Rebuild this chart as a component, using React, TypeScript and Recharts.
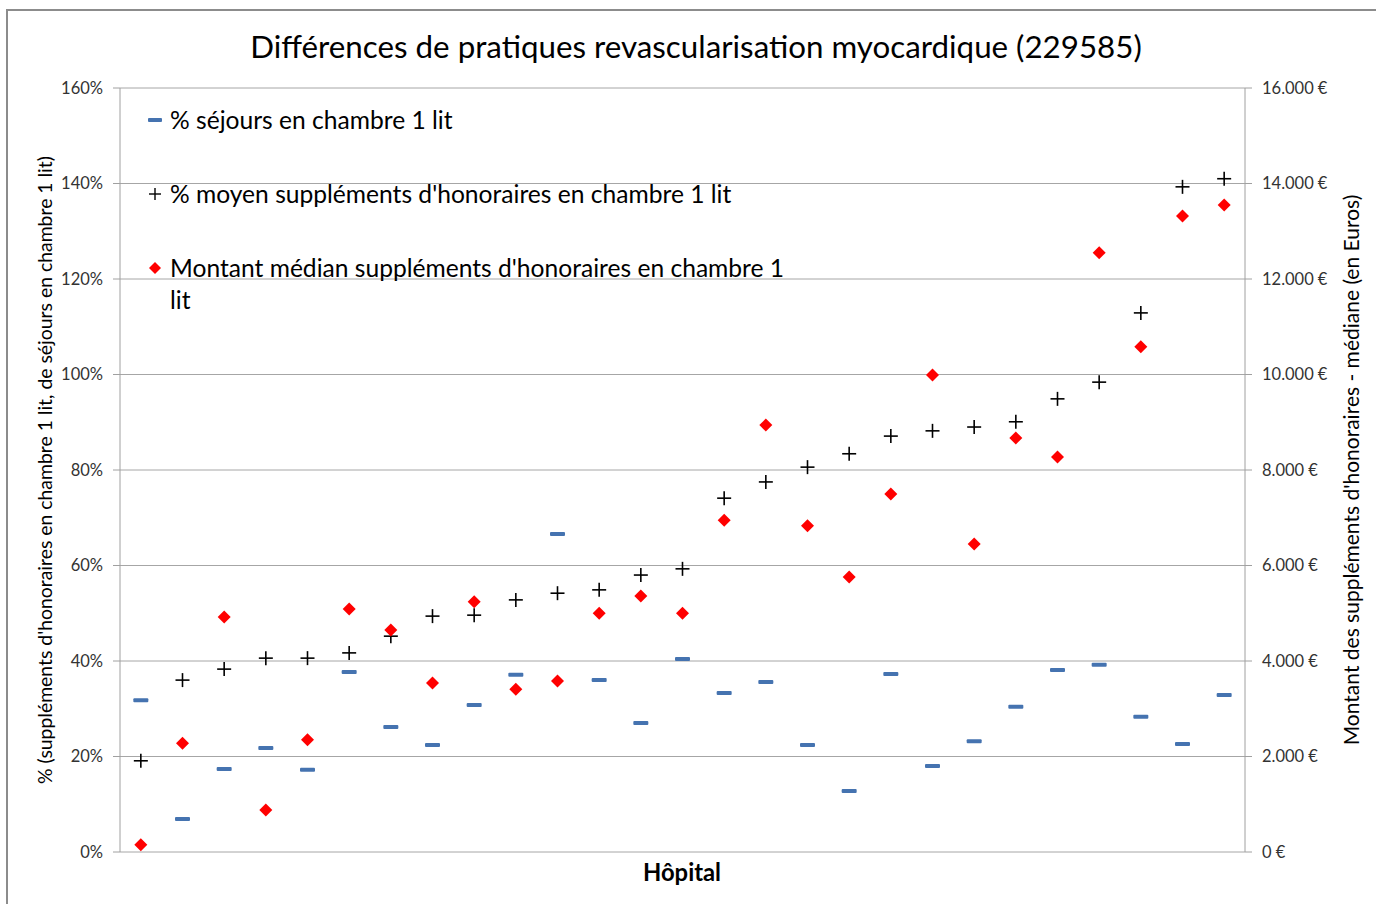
import React from 'react'
import { ComposedChart, Line, XAxis, YAxis, CartesianGrid } from 'recharts'

// one entry per hospital, sorted by % moyen suppléments
const hopitaux = [1, 2, 3, 4, 5, 6, 7, 8, 9, 10, 11, 12, 13, 14, 15, 16, 17, 18, 19, 20, 21, 22, 23, 24, 25, 26, 27]

const sejours1Lit = [
  31.8, 6.9, 17.4, 21.8, 17.2, 37.7, 26.2, 22.4, 30.8, 37.1, 66.6, 36.0, 27.0, 40.4,
  33.3, 35.6, 22.4, 12.8, 37.3, 18.0, 23.2, 30.4, 38.1, 39.2, 28.3, 22.6, 32.9,
]

const supplementsPct = [
  19.1, 36.0, 38.3, 40.6, 40.6, 41.7, 45.2, 49.4, 49.6, 52.8, 54.2, 54.9, 58.0, 59.3,
  74.1, 77.5, 80.6, 83.4, 87.1, 88.2, 89.0, 90.1, 94.9, 98.4, 112.9, 139.3, 141.0,
]

const montantMedian = [
  150, 2280, 4920, 880, 2350, 5090, 4650, 3540, 5240, 3410, 3580, 5000, 5360, 5000,
  6950, 8940, 6830, 5760, 7500, 9990, 6450, 8670, 8270, 12550, 10580, 13320, 13550,
]

const ticksPct = [0, 20, 40, 60, 80, 100, 120, 140, 160]
const ticksEuro = [0, 2000, 4000, 6000, 8000, 10000, 12000, 14000, 16000]

const data = hopitaux.map((h, i) => ({
  hop: h,
  sejours: sejours1Lit[i],
  supp: supplementsPct[i],
  montant: montantMedian[i],
}))

const FONT = 'Lato, "Open Sans", sans-serif'
const BLUE = '#4573B0'
const RED = '#FF0000'

function euro(v: number) {
  return `${String(v).replace(/\B(?=(\d{3})+(?!\d))/g, '.')}\u202f€`
}

function Dash(props: any) {
  const { cx, cy } = props
  if (cx == null || cy == null) return null
  return <rect x={cx - 7.5} y={cy - 2} width={15} height={4} rx={1} fill={BLUE} />
}

function Plus(props: any) {
  const { cx, cy } = props
  if (cx == null || cy == null) return null
  return (
    <g stroke="#000" strokeWidth={1.6}>
      <line x1={cx - 7} y1={cy} x2={cx + 7} y2={cy} />
      <line x1={cx} y1={cy - 7} x2={cx} y2={cy + 7} />
    </g>
  )
}

function Diamond(props: any) {
  const { cx, cy } = props
  if (cx == null || cy == null) return null
  const r = 6.5
  return <path d={`M${cx},${cy - r}L${cx + r},${cy}L${cx},${cy + r}L${cx - r},${cy}Z`} fill={RED} />
}

const tickStyle = { fontSize: 16.5, fill: '#333', fontFamily: FONT }

export default function App() {
  return (
    <div
      style={{
        position: 'absolute',
        left: 0,
        top: 0,
        width: 1376,
        height: 904,
        overflow: 'hidden',
        background: '#fff',
        fontFamily: FONT,
      }}
    >
      <div
        style={{
          position: 'absolute',
          left: 6,
          top: 9,
          width: 1500,
          height: 1500,
          border: '2px solid #8c8c8c',
        }}
      />
      <ComposedChart
        width={1376}
        height={904}
        data={data}
        margin={{ top: 88, right: 71, left: 60, bottom: 52 }}
      >
        <CartesianGrid yAxisId="left" vertical={false} stroke="#a6a6a6" />
        <XAxis dataKey="hop" type="number" domain={[0.5, 27.5]} hide />
        <YAxis
          yAxisId="left"
          width={60}
          domain={[0, 160]}
          ticks={ticksPct}
          tickFormatter={(v: number) => `${v}%`}
          tick={tickStyle}
          tickSize={7}
          tickMargin={10}
          stroke="#a0a0a0"
        />
        <YAxis
          yAxisId="right"
          orientation="right"
          width={60}
          domain={[0, 16000]}
          ticks={ticksEuro}
          tickFormatter={euro}
          tick={tickStyle}
          tickSize={7}
          tickMargin={10}
          stroke="#a0a0a0"
        />
        <Line
          yAxisId="left"
          dataKey="sejours"
          stroke="none"
          dot={<Dash />}
          activeDot={false}
          isAnimationActive={false}
        />
        <Line
          yAxisId="left"
          dataKey="supp"
          stroke="none"
          dot={<Plus />}
          activeDot={false}
          isAnimationActive={false}
        />
        <Line
          yAxisId="right"
          dataKey="montant"
          stroke="none"
          dot={<Diamond />}
          activeDot={false}
          isAnimationActive={false}
        />
      </ComposedChart>

      <div
        style={{
          position: 'absolute',
          left: 696,
          top: 46,
          transform: 'translate(-50%, -50%)',
          fontSize: 31.3,
          whiteSpace: 'nowrap',
          color: '#000',
        }}
      >
        Différences de pratiques revascularisation myocardique (229585)
      </div>

      {/* legend */}
      <div style={{ position: 'absolute', left: 146, top: 104, fontSize: 24.6, color: '#000', lineHeight: '32px' }}>
        <div style={{ display: 'flex', alignItems: 'center', height: 32 }}>
          <svg width={24} height={32} style={{ flex: 'none' }}>
            <rect x={2} y={14} width={14} height={4} rx={1} fill={BLUE} />
          </svg>
          <span>% séjours en chambre 1 lit</span>
        </div>
        <div style={{ display: 'flex', alignItems: 'center', height: 32, marginTop: 42 }}>
          <svg width={24} height={32} style={{ flex: 'none' }}>
            <g stroke="#000" strokeWidth={1.4}>
              <line x1={3} y1={16} x2={15} y2={16} />
              <line x1={9} y1={10} x2={9} y2={22} />
            </g>
          </svg>
          <span style={{ whiteSpace: 'nowrap' }}>% moyen suppléments d'honoraires en chambre 1 lit</span>
        </div>
        <div style={{ display: 'flex', alignItems: 'flex-start', marginTop: 42 }}>
          <svg width={24} height={32} style={{ flex: 'none' }}>
            <path d="M9,10L15,16L9,22L3,16Z" fill={RED} />
          </svg>
          <span style={{ whiteSpace: 'nowrap' }}>
            Montant médian suppléments d'honoraires en chambre 1
            <br />
            lit
          </span>
        </div>
      </div>

      <div
        style={{
          position: 'absolute',
          left: 44,
          top: 470,
          transform: 'translate(-50%, -50%) rotate(-90deg)',
          fontSize: 19.4,
          whiteSpace: 'nowrap',
          color: '#000',
        }}
      >
        % (suppléments d'honoraires en chambre 1 lit, de séjours en chambre 1 lit)
      </div>
      <div
        style={{
          position: 'absolute',
          left: 1350,
          top: 470,
          transform: 'translate(-50%, -50%) rotate(-90deg)',
          fontSize: 21,
          whiteSpace: 'nowrap',
          color: '#000',
        }}
      >
        Montant des suppléments d'honoraires - médiane (en Euros)
      </div>
      <div
        style={{
          position: 'absolute',
          left: 682,
          top: 872,
          transform: 'translate(-50%, -50%)',
          fontSize: 23.8,
          fontWeight: 700,
          whiteSpace: 'nowrap',
          color: '#000',
        }}
      >
        Hôpital
      </div>
    </div>
  )
}
